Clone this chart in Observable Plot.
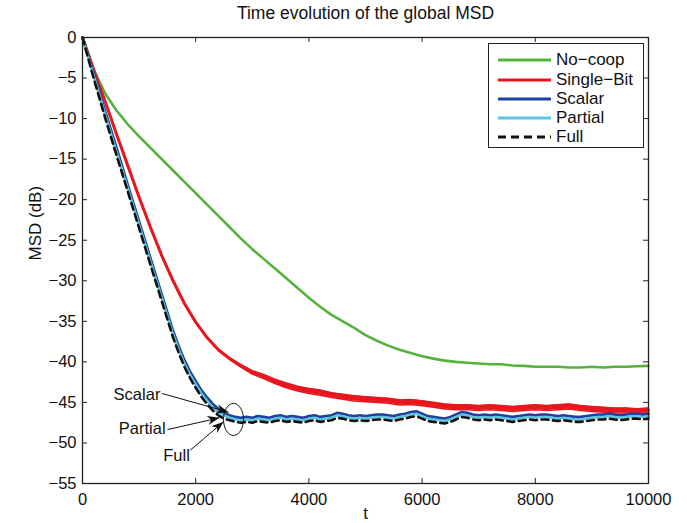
<!DOCTYPE html>
<html>
<head>
<meta charset="utf-8">
<script src="https://cdn.jsdelivr.net/npm/d3@7"></script>
<script src="https://cdn.jsdelivr.net/npm/@observablehq/plot@0.6"></script>
<style>
  html, body { margin: 0; padding: 0; background: #fff; }
  #wrap { position: relative; width: 687px; height: 523px; font-family: "Liberation Sans", Arial, Helvetica, sans-serif; }
  #legend { position: absolute; background: #fff; border: 1px solid #222; box-sizing: border-box; }
  .row { position: absolute; left: 0; height: 20px; line-height: 20px; font-size: 17px; color: #111; white-space: nowrap; }
  .row svg { position: absolute; top: 0; }
  .row span { position: absolute; }
</style>
</head>
<body>
<div id="wrap"></div>
<script>
// ---------- data ----------
const chartTitle = "Time evolution of the global MSD";
const xLabel = "t";
const yLabel = "MSD (dB)";
const xTicks = [0, 2000, 4000, 6000, 8000, 10000];
const yTicks = [0, -5, -10, -15, -20, -25, -30, -35, -40, -45, -50, -55];

const seriesNames = ["No\u2212coop", "Single\u2212Bit", "Scalar", "Partial", "Full"];
const seriesColors = ["#55b33b", "#e8171f", "#2040a0", "#5cc6dc", "#111111"];

// [t, MSD dB]
const noCoop = [[0,0],[200,-4.0],[400,-6.9],[600,-9.0],[800,-10.7],[1000,-12.2],[1200,-13.6],[1400,-15.0],[1600,-16.4],[1800,-17.8],[2000,-19.2],[2200,-20.6],[2400,-22.0],[2600,-23.4],[2800,-24.8],[3000,-26.1],[3200,-27.3],[3400,-28.5],[3600,-29.7],[3800,-30.9],[4000,-32.1],[4200,-33.2],[4400,-34.2],[4600,-35.0],[4800,-35.8],[5000,-36.7],[5200,-37.4],[5400,-38.0],[5600,-38.5],[5800,-38.9],[6000,-39.3],[6200,-39.6],[6400,-39.85],[6600,-40.0],[6800,-40.1],[7000,-40.2],[7200,-40.3],[7400,-40.3],[7600,-40.45],[7800,-40.5],[8000,-40.6],[8200,-40.6],[8400,-40.6],[8600,-40.7],[8800,-40.7],[9000,-40.6],[9200,-40.7],[9400,-40.6],[9600,-40.6],[9800,-40.55],[10000,-40.5]];

// [t, MSD dB, half-width of the noise band in dB]
const singleBit = [[0,0,0],[200,-4.0,0],[400,-7.9,0],[600,-11.9,0],[800,-15.8,0],[1000,-19.7,0],[1200,-23.4,0],[1400,-26.9,0],[1600,-30.0,0],[1800,-32.8,0],[2000,-35.1,0.02],[2200,-37.0,0.04],[2400,-38.5,0.07],[2600,-39.6,0.1],[2800,-40.5,0.15],[3000,-41.3,0.2],[3200,-41.8,0.24],[3400,-42.4,0.27],[3600,-42.9,0.28],[3800,-43.3,0.3],[4000,-43.6,0.3],[4200,-43.8,0.32],[4400,-44.1,0.3],[4600,-44.3,0.3],[4800,-44.5,0.32],[5000,-44.6,0.3],[5200,-44.7,0.3],[5400,-44.8,0.3],[5600,-45.0,0.32],[5800,-44.95,0.3],[6000,-45.1,0.3],[6200,-45.3,0.3],[6400,-45.5,0.3],[6600,-45.6,0.3],[6800,-45.6,0.3],[7000,-45.7,0.3],[7200,-45.6,0.3],[7400,-45.7,0.3],[7600,-45.8,0.3],[7800,-45.7,0.3],[8000,-45.6,0.3],[8200,-45.7,0.3],[8400,-45.6,0.3],[8600,-45.5,0.3],[8800,-45.7,0.3],[9000,-45.8,0.3],[9200,-45.9,0.3],[9400,-46.0,0.3],[9600,-46.0,0.3],[9800,-46.1,0.3],[10000,-46.0,0.3]];

const scalar = [[0,0],[200,-4.5],[400,-9.1],[600,-13.6],[800,-18.2],[1000,-22.7],[1200,-27.2],[1400,-31.7],[1600,-36.2],[1700,-38.1],[1800,-39.8],[1900,-41.2],[2000,-42.4],[2100,-43.5],[2200,-44.4],[2300,-45.2],[2400,-45.8],[2500,-46.3],[2600,-46.6],[2700,-46.8],[2800,-46.9],[2900,-46.8],[3000,-46.9],[3100,-46.7],[3200,-46.8],[3300,-46.9],[3400,-46.7],[3500,-46.6],[3600,-46.8],[3700,-46.7],[3800,-46.8],[3900,-46.9],[4000,-46.7],[4100,-46.6],[4200,-46.8],[4300,-46.7],[4400,-46.6],[4500,-46.3],[4600,-46.4],[4700,-46.6],[4800,-46.7],[4900,-46.6],[5000,-46.7],[5100,-46.6],[5200,-46.5],[5300,-46.5],[5400,-46.6],[5500,-46.7],[5600,-46.5],[5700,-46.4],[5800,-46.2],[5900,-46.1],[6000,-46.4],[6100,-46.7],[6200,-46.8],[6300,-46.9],[6400,-47.0],[6500,-46.8],[6600,-46.5],[6700,-46.2],[6800,-46.3],[6900,-46.5],[7000,-46.6],[7100,-46.5],[7200,-46.6],[7300,-46.5],[7400,-46.6],[7500,-46.7],[7600,-46.8],[7700,-46.7],[7800,-46.6],[7900,-46.5],[8000,-46.6],[8100,-46.5],[8200,-46.5],[8300,-46.6],[8400,-46.7],[8500,-46.6],[8600,-46.7],[8700,-46.8],[8800,-46.8],[8900,-46.7],[9000,-46.6],[9100,-46.5],[9200,-46.5],[9300,-46.4],[9400,-46.5],[9500,-46.6],[9600,-46.5],[9700,-46.4],[9800,-46.4],[9900,-46.5],[10000,-46.4]];

const partial = [[0,0],[200,-4.8],[400,-9.5],[600,-14.1],[800,-18.6],[1000,-23.1],[1200,-27.6],[1400,-32.1],[1600,-36.6],[1700,-38.5],[1800,-40.2],[1900,-41.6],[2000,-42.8],[2100,-43.9],[2200,-44.8],[2300,-45.6],[2400,-46.2],[2500,-46.6],[2600,-46.9],[2700,-47.1],[2800,-47.2],[2900,-47.1],[3000,-47.2],[3100,-47.0],[3200,-47.1],[3300,-47.2],[3400,-47.0],[3500,-46.9],[3600,-47.1],[3700,-47.0],[3800,-47.1],[3900,-47.2],[4000,-47.0],[4100,-46.9],[4200,-47.1],[4300,-47.0],[4400,-46.9],[4500,-46.6],[4600,-46.7],[4700,-46.9],[4800,-47.0],[4900,-46.9],[5000,-47.0],[5100,-46.9],[5200,-46.8],[5300,-46.8],[5400,-46.9],[5500,-47.0],[5600,-46.8],[5700,-46.7],[5800,-46.5],[5900,-46.4],[6000,-46.7],[6100,-47.0],[6200,-47.1],[6300,-47.2],[6400,-47.3],[6500,-47.1],[6600,-46.8],[6700,-46.5],[6800,-46.6],[6900,-46.8],[7000,-46.9],[7100,-46.8],[7200,-46.9],[7300,-46.8],[7400,-46.9],[7500,-47.0],[7600,-47.1],[7700,-47.0],[7800,-46.9],[7900,-46.8],[8000,-46.9],[8100,-46.8],[8200,-46.8],[8300,-46.9],[8400,-47.0],[8500,-46.9],[8600,-47.0],[8700,-47.1],[8800,-47.1],[8900,-47.0],[9000,-46.9],[9100,-46.8],[9200,-46.8],[9300,-46.7],[9400,-46.8],[9500,-46.9],[9600,-46.8],[9700,-46.7],[9800,-46.7],[9900,-46.8],[10000,-46.7]];

const full = [[0,0],[200,-5.1],[400,-9.9],[600,-14.5],[800,-19.0],[1000,-23.5],[1200,-28.0],[1400,-32.5],[1600,-37.0],[1700,-38.9],[1800,-40.6],[1900,-42.0],[2000,-43.2],[2100,-44.3],[2200,-45.2],[2300,-46.0],[2400,-46.6],[2500,-47.0],[2600,-47.2],[2700,-47.4],[2800,-47.5],[2900,-47.4],[3000,-47.5],[3100,-47.3],[3200,-47.4],[3300,-47.5],[3400,-47.3],[3500,-47.2],[3600,-47.4],[3700,-47.3],[3800,-47.4],[3900,-47.5],[4000,-47.3],[4100,-47.2],[4200,-47.4],[4300,-47.3],[4400,-47.2],[4500,-46.9],[4600,-47.0],[4700,-47.2],[4800,-47.3],[4900,-47.2],[5000,-47.3],[5100,-47.2],[5200,-47.1],[5300,-47.1],[5400,-47.2],[5500,-47.3],[5600,-47.1],[5700,-47.0],[5800,-46.8],[5900,-46.7],[6000,-47.0],[6100,-47.3],[6200,-47.4],[6300,-47.5],[6400,-47.6],[6500,-47.4],[6600,-47.1],[6700,-46.8],[6800,-46.9],[6900,-47.1],[7000,-47.2],[7100,-47.1],[7200,-47.2],[7300,-47.1],[7400,-47.2],[7500,-47.3],[7600,-47.4],[7700,-47.3],[7800,-47.2],[7900,-47.1],[8000,-47.2],[8100,-47.1],[8200,-47.1],[8300,-47.2],[8400,-47.3],[8500,-47.2],[8600,-47.3],[8700,-47.4],[8800,-47.4],[8900,-47.3],[9000,-47.2],[9100,-47.1],[9200,-47.1],[9300,-47.0],[9400,-47.1],[9500,-47.2],[9600,-47.1],[9700,-47.0],[9800,-47.0],[9900,-47.1],[10000,-47.0]];

// annotation (data coordinates)
const annotLabels = ["Scalar", "Partial", "Full"];
const annotTextT = [963, 1055, 1661];
const annotTextV = [-44.0, -48.3, -51.6];
const arrowFromT = [1403, 1502, 1903];
const arrowFromV = [-43.9, -48.35, -50.9];
const arrowToT = [2580, 2420, 2491];
const arrowToV = [-46.2, -46.9, -47.4];
const ellipseCenter = [{t: 2668, v: -47.1}];

// ---------- build ----------
const fmt = d => d < 0 ? "\u2212" + Math.abs(d) : String(d);
const toObj = arr => arr.map(([t, v, s]) => ({t, v, s: s || 0}));
const lines = [noCoop, singleBit, scalar, partial, full].map(toObj);

const annots = annotLabels.map((s, i) => ({
  label: s, tt: annotTextT[i], tv: annotTextV[i],
  x1: arrowFromT[i], y1: arrowFromV[i], x2: arrowToT[i], y2: arrowToV[i]
}));

function filledArrow(color, ctx) {
  const doc = (ctx && ctx.document) ? ctx.document : (ctx && ctx.createElementNS ? ctx : document);
  const ns = "http://www.w3.org/2000/svg";
  const m = doc.createElementNS(ns, "marker");
  m.setAttribute("viewBox", "-13 -6 14 12");
  m.setAttribute("markerWidth", "14");
  m.setAttribute("markerHeight", "12");
  m.setAttribute("markerUnits", "userSpaceOnUse");
  m.setAttribute("refX", "0");
  m.setAttribute("refY", "0");
  m.setAttribute("orient", "auto");
  const p = doc.createElementNS(ns, "path");
  p.setAttribute("d", "M0,0L-12,-4.5L-8.5,0L-12,4.5Z");
  p.setAttribute("fill", "#111");
  p.setAttribute("stroke", "none");
  m.appendChild(p);
  return m;
}

const ellipseSymbol = {
  draw(context) {
    const rx = 10, ry = 16, k = 0.5523;
    context.moveTo(rx, 0);
    context.bezierCurveTo(rx, k * ry, k * rx, ry, 0, ry);
    context.bezierCurveTo(-k * rx, ry, -rx, k * ry, -rx, 0);
    context.bezierCurveTo(-rx, -k * ry, -k * rx, -ry, 0, -ry);
    context.bezierCurveTo(k * rx, -ry, rx, -k * ry, rx, 0);
    context.closePath();
  }
};

const W = 687, H = 523, mL = 82, mR = 39, mT = 37, mB = 40;
const fw = W - mL - mR, fh = H - mT - mB;
const tickLen = 5;

const chart = Plot.plot({
  width: W, height: H,
  marginLeft: mL, marginRight: mR, marginTop: mT, marginBottom: mB,
  x: {domain: [0, 10000]},
  y: {domain: [-55, 0]},
  style: {fontFamily: "'Liberation Sans', Arial, Helvetica, sans-serif", fontSize: "16.5px", color: "#111", background: "#fff", overflow: "visible"},
  marks: [
    // data lines
    Plot.line(lines[0], {x: "t", y: "v", stroke: seriesColors[0], strokeWidth: 2.6}),
    Plot.areaY(lines[1], {x: "t", y1: d => d.v - d.s, y2: d => d.v + d.s, fill: seriesColors[1]}),
    Plot.line(lines[1], {x: "t", y: "v", stroke: seriesColors[1], strokeWidth: 3}),
    Plot.line(lines[1], {x: "t", y: d => d.v + d.s, stroke: seriesColors[1], strokeWidth: 1.6}),
    Plot.line(lines[1], {x: "t", y: d => d.v - d.s, stroke: seriesColors[1], strokeWidth: 1.6}),
    Plot.line(lines[2], {x: "t", y: "v", stroke: seriesColors[2], strokeWidth: 2.8}),
    Plot.line(lines[3], {x: "t", y: "v", stroke: seriesColors[3], strokeWidth: 2.6}),
    Plot.line(lines[4], {x: "t", y: "v", stroke: seriesColors[4], strokeWidth: 2.6, strokeDasharray: "7,4.5"}),
    // annotations
    Plot.dot(ellipseCenter, {x: "t", y: "v", symbol: ellipseSymbol, r: 4, fill: "none", stroke: "#111", strokeWidth: 1}),
    Plot.link(annots, {x1: "x1", y1: "y1", x2: "x2", y2: "y2", stroke: "#111", strokeWidth: 1, markerEnd: filledArrow}),
    Plot.text(annots, {x: "tt", y: "tv", text: "label", fontSize: 16.5, fill: "#111"}),
    // frame and inward ticks
    Plot.frame({stroke: "#222", strokeWidth: 1.3}),
    Plot.ruleX(xTicks, {x: d => d, insetTop: fh - tickLen, stroke: "#222", strokeWidth: 1}),
    Plot.ruleX(xTicks, {x: d => d, insetBottom: fh - tickLen, stroke: "#222", strokeWidth: 1}),
    Plot.ruleY(yTicks, {y: d => d, insetRight: fw - tickLen, stroke: "#222", strokeWidth: 1}),
    Plot.ruleY(yTicks, {y: d => d, insetLeft: fw - tickLen, stroke: "#222", strokeWidth: 1}),
    // axes labels
    Plot.axisX({ticks: xTicks, tickSize: 0, tickPadding: 10, tickFormat: fmt, label: null}),
    Plot.axisY({ticks: yTicks, tickSize: 0, tickPadding: 6, tickFormat: fmt, label: null}),
    Plot.text([xLabel], {frameAnchor: "bottom", lineAnchor: "middle", dy: 30, fontSize: 17, fill: "#111"}),
    Plot.text([yLabel], {frameAnchor: "left", dx: -47, rotate: -90, fontSize: 17, fill: "#111"}),
    Plot.text([chartTitle], {frameAnchor: "top", lineAnchor: "middle", dy: -24, fontSize: 17.5, fill: "#111"})
  ]
});

const wrap = document.getElementById("wrap");
wrap.appendChild(chart);

// legend (HTML overlay inside the axes, top-right)
const legend = document.createElement("div");
legend.id = "legend";
legend.style.left = "488px";
legend.style.top = "43px";
legend.style.width = "156px";
legend.style.height = "105px";
const rowCenters = [16.3, 35.5, 54.7, 73.9, 93.1];
seriesNames.forEach((name, i) => {
  const row = document.createElement("div");
  row.className = "row";
  row.style.top = (rowCenters[i] - 10) + "px";
  row.style.width = "154px";
  const dash = i === 4 ? ' stroke-dasharray="8,5"' : '';
  row.innerHTML = `<svg width="64" height="20" style="left:9px"><line x1="0" y1="10" x2="53" y2="10" stroke="${seriesColors[i]}" stroke-width="2.8"${dash}/></svg><span style="left:67px">${name}</span>`;
  legend.appendChild(row);
});
wrap.appendChild(legend);
</script>
</body>
</html>
